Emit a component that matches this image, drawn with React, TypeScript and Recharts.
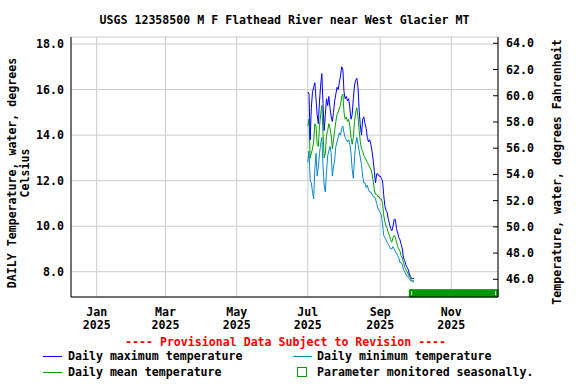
import { LineChart, Line, XAxis, YAxis, CartesianGrid, ReferenceArea, ReferenceLine } from 'recharts'

// days counted from Jan 1 2025
const START_DAY = 181 // Jul 1

const dailyMax = [
  15.9, 15.8, 13.8, 15.2, 15.9, 16.1, 16.3, 15.6, 14.9, 14.5,
  15.5, 16.2, 16.7, 15.4, 14.2, 14.9, 15.6, 15.3, 15.7, 15.2,
  14.8, 14.6, 15.0, 15.5, 15.8, 16.1, 16.0, 16.3, 16.6, 17.0,
  16.9, 15.9, 15.6, 15.7, 15.5, 15.6, 15.2, 14.7, 14.9, 15.6,
  16.2, 16.4, 16.5, 16.1, 15.1, 14.4, 14.0, 14.7, 14.8, 14.5,
  14.3, 13.9, 13.7, 13.8, 13.6, 13.3, 12.9, 12.4, 11.9, 12.3,
  12.3, 12.2, 12.2, 12.1, 12.0, 11.4, 10.9, 10.7, 10.6, 10.3,
  10.1, 9.9, 9.8, 10.0, 10.3, 10.3, 9.9, 9.7, 9.5, 9.4,
  9.2, 9.0, 8.6, 8.5, 8.3, 8.2, 8.1, 7.9, 7.8, 7.7,
  7.7, 7.7,
]

const dailyMin = [
  12.8, 13.3, 12.0, 11.9, 11.5, 11.2, 12.5, 13.2, 12.2, 12.6,
  13.2, 13.6, 13.9, 12.7, 11.8, 11.5, 12.4, 13.1, 13.3, 13.5,
  13.2, 12.2, 12.6, 12.9, 13.5, 13.7, 13.9, 14.1, 14.0, 14.3,
  14.4, 14.1, 13.9, 13.8, 13.7, 13.8, 13.6, 13.2, 12.5, 12.1,
  13.0, 13.6, 13.9, 13.6, 13.3, 13.0, 12.7, 12.2, 11.9, 11.9,
  11.7, 11.8, 11.6, 11.5, 11.5, 11.4, 11.3, 11.3, 11.2, 11.0,
  10.8, 10.7, 10.6, 10.5, 10.1, 9.6, 9.5, 9.4, 9.3, 9.2,
  9.1, 9.0, 9.0, 9.1, 9.0, 8.9, 8.8, 8.7, 8.6, 8.4,
  8.4, 8.3, 8.1, 8.0, 7.9, 7.8, 7.8, 7.7, 7.6, 7.6,
  7.55, 7.55,
]

const dailyMean = [
  14.4, 14.7, 13.0, 13.2, 13.4, 13.7, 14.5, 14.4, 13.6, 13.5,
  14.4, 14.9, 15.3, 14.1, 13.0, 13.2, 14.0, 14.2, 14.5, 14.3,
  14.0, 13.4, 13.8, 14.2, 14.6, 14.9, 15.0, 15.2, 15.3, 15.7,
  15.8, 15.0, 14.7, 14.8, 14.6, 14.7, 14.4, 13.9, 13.6, 13.9,
  14.6, 15.0, 15.2, 14.8, 14.2, 13.7, 13.4, 13.3, 13.1, 13.0,
  12.9, 12.8, 12.7, 12.6, 12.5, 12.3, 12.0, 11.6, 11.4, 11.4,
  11.3, 11.3, 11.2, 11.2, 11.0, 10.5, 10.2, 10.0, 9.9, 9.7,
  9.6, 9.4, 9.3, 9.5, 9.6, 9.5, 9.3, 9.1, 9.0, 8.9,
  8.7, 8.6, 8.4, 8.2, 8.1, 8.0, 7.9, 7.8, 7.7, 7.6,
  7.6, 7.6,
]

const monthTicks = [0, 59, 120, 181, 243, 304]
const monthLabels = ['Jan', 'Mar', 'May', 'Jul', 'Sep', 'Nov']
const yearLabel = '2025'
const celsiusTicks = [8, 10, 12, 14, 16, 18]
const fahrenheitTicks = [46, 48, 50, 52, 54, 56, 58, 60, 62, 64]
const seasonalFrom = 268
const seasonalTo = 344

const rows = dailyMax.map((v, i) => ({
  day: START_DAY + i,
  max: v,
  min: dailyMin[i],
  mean: dailyMean[i],
}))

const FONT = '"DejaVu Sans Mono", monospace'
const FS = 11.6
const BLUE = '#0000ff'
const CYAN = '#0a88d0'
const GREEN = '#00a000'

const textStyle = { fontFamily: FONT, fontSize: FS, fontWeight: 'bold' as const, fill: '#000' }

function MonthTick({ x, y, payload }: any) {
  const i = monthTicks.indexOf(payload.value)
  return (
    <text x={x} y={y} textAnchor="middle" {...textStyle}>
      <tspan x={x} dy={13}>{monthLabels[i]}</tspan>
      <tspan x={x} dy={12.5}>{yearLabel}</tspan>
    </text>
  )
}

function FahrenheitTick({ x, y, payload }: any) {
  return (
    <g>
      <line x1={x - 13} x2={x - 8} y1={y} y2={y} stroke="#000" />
      <text x={x} y={y} dy={4} textAnchor="start" {...textStyle}>
        {payload.value.toFixed(1)}
      </text>
    </g>
  )
}

const abs = (left: number, top: number, extra: any = {}) => ({
  position: 'absolute' as const,
  left,
  top,
  whiteSpace: 'pre' as const,
  fontFamily: FONT,
  fontSize: FS,
  fontWeight: 'bold' as const,
  lineHeight: '14px',
  color: '#000',
  ...extra,
})

export default function App() {
  return (
    <div style={{ position: 'absolute', left: 0, top: 0, width: 576, height: 384, background: '#fff' }}>
      <LineChart width={576} height={384} data={rows} margin={{ top: 37, right: 28, bottom: 57, left: 21 }}>
        <CartesianGrid yAxisId="c" stroke="#cccccc" horizontal vertical />
        <XAxis
          type="number"
          dataKey="day"
          domain={[-22, 344]}
          allowDataOverflow
          ticks={monthTicks}
          tick={<MonthTick />}
          tickLine={false}
          tickSize={0}
          tickMargin={6}
          height={30}
          axisLine={{ stroke: '#000' }}
        />
        <YAxis
          yAxisId="c"
          type="number"
          domain={[6.89, 18.31]}
          allowDataOverflow
          ticks={celsiusTicks}
          tickFormatter={(v: number) => v.toFixed(1)}
          tick={textStyle}
          tickLine={false}
          tickSize={0}
          tickMargin={7}
          width={50}
          axisLine={{ stroke: '#000' }}
        />
        <YAxis
          yAxisId="f"
          orientation="right"
          type="number"
          domain={[44.65, 64.48]}
          allowDataOverflow
          ticks={fahrenheitTicks}
          tick={<FahrenheitTick />}
          tickLine={false}
          tickSize={0}
          tickMargin={8}
          width={50}
          axisLine={{ stroke: '#000' }}
        />
        <Line yAxisId="c" dataKey="min" stroke={CYAN} strokeWidth={1} dot={false} isAnimationActive={false} />
        <Line yAxisId="c" dataKey="mean" stroke={GREEN} strokeWidth={1} dot={false} isAnimationActive={false} />
        <Line yAxisId="c" dataKey="max" stroke={BLUE} strokeWidth={1} dot={false} isAnimationActive={false} />
        <ReferenceArea
          yAxisId="c"
          x1={seasonalFrom}
          x2={seasonalTo}
          y1={6.89}
          y2={7.21}
          fill="#009900"
          fillOpacity={1}
          stroke="#009900"
        />
        <ReferenceLine yAxisId="c" segment={[{ x: 270, y: 6.97 }, { x: 270, y: 7.14 }]} stroke="#fff" />
        <ReferenceLine yAxisId="c" segment={[{ x: 342, y: 6.97 }, { x: 342, y: 7.14 }]} stroke="#fff" />
      </LineChart>

      <div style={abs(0, 13, { width: 569, textAlign: 'center' })}>
        USGS 12358500 M F Flathead River near West Glacier MT
      </div>

      <div
        style={abs(-131, 160, {
          width: 300,
          height: 26,
          lineHeight: '13px',
          textAlign: 'center',
          transform: 'rotate(-90deg)',
          whiteSpace: 'normal',
        })}
      >
        DAILY Temperature, water, degrees
        <br />
        Celsius
      </div>

      <div style={abs(407, 165, { width: 300, height: 14, textAlign: 'center', transform: 'rotate(-90deg)' })}>
        Temperature, water, degrees Fahrenheit
      </div>

      <div style={abs(125, 335, { color: '#ff0000' })}>---- Provisional Data Subject to Revision ----</div>

      <div style={{ position: 'absolute', left: 43, top: 356, width: 19, height: 1, background: BLUE }} />
      <div style={abs(68, 349)}>Daily maximum temperature</div>
      <div style={{ position: 'absolute', left: 293, top: 356, width: 19, height: 1, background: CYAN }} />
      <div style={abs(317, 349)}>Daily minimum temperature</div>

      <div style={{ position: 'absolute', left: 43, top: 372, width: 19, height: 1, background: GREEN }} />
      <div style={abs(68, 365)}>Daily mean temperature</div>
      <div
        style={{
          position: 'absolute',
          left: 297,
          top: 367,
          width: 10,
          height: 10,
          boxSizing: 'border-box',
          border: `1.5px solid ${GREEN}`,
        }}
      />
      <div style={abs(317, 365)}>Parameter monitored seasonally.</div>
    </div>
  )
}
